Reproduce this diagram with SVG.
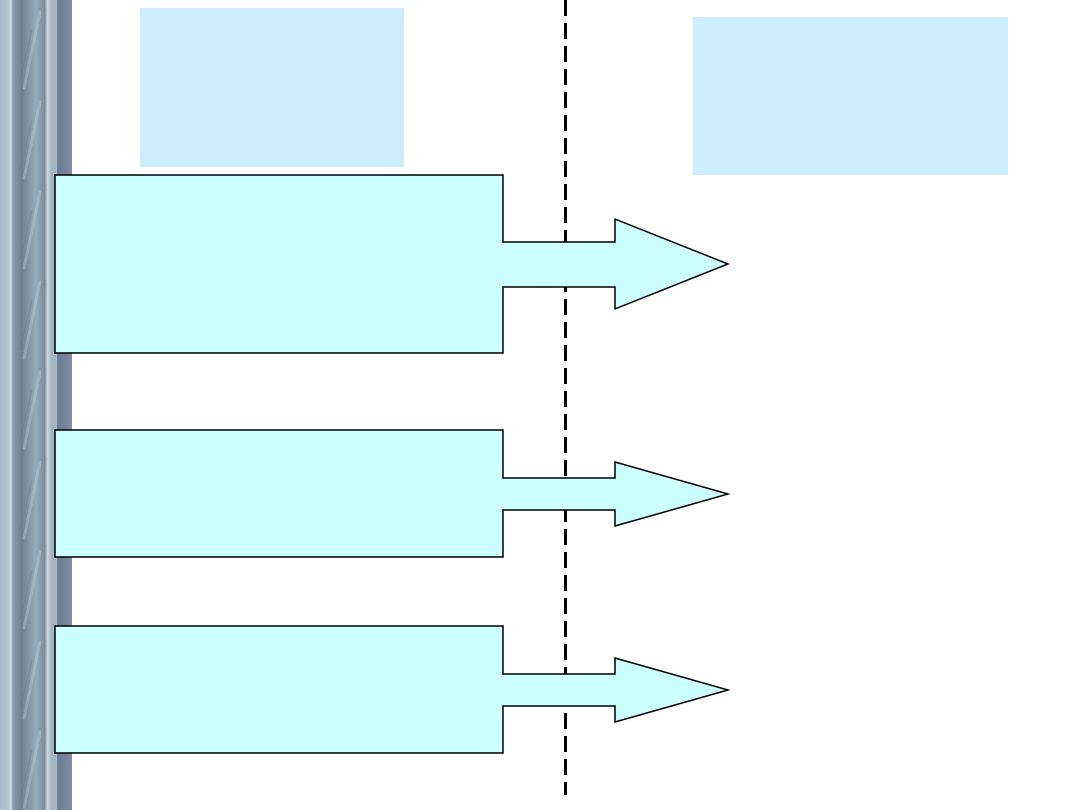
<svg xmlns="http://www.w3.org/2000/svg" width="1080" height="810" viewBox="0 0 1080 810">
<style>
.node{fill:#CCFFFF;stroke:#000;stroke-width:1.5;stroke-linejoin:miter}
.label{fill:#CCECFF;stroke:none}
.dash{stroke:#000;stroke-width:3;stroke-dasharray:16 7;fill:none}
</style>
<defs>
<linearGradient id="bar" x1="0" y1="0" x2="1" y2="0">
<stop offset="0" stop-color="#a9bbc8"/>
<stop offset="0.12" stop-color="#b5c6d2"/>
<stop offset="0.15" stop-color="#d6e2ea"/>
<stop offset="0.18" stop-color="#8a9cab"/>
<stop offset="0.3" stop-color="#6f8190"/>
<stop offset="0.5" stop-color="#98abba"/>
<stop offset="0.62" stop-color="#7a8c9b"/>
<stop offset="0.66" stop-color="#c9d6df"/>
<stop offset="0.72" stop-color="#9fb1bf"/>
<stop offset="0.79" stop-color="#a7b8c5"/>
<stop offset="0.8" stop-color="#6c7d90"/>
<stop offset="1" stop-color="#7d8ca8"/>
</linearGradient>
<pattern id="streak" width="72" height="90" patternUnits="userSpaceOnUse">
<path d="M24 88 L40 12" stroke="#c2d3e0" stroke-width="3" stroke-opacity="0.35" stroke-linecap="round" fill="none"/>
<path d="M20 80 L32 30" stroke="#5f7181" stroke-width="1.5" stroke-opacity="0.25" fill="none"/>
</pattern>
</defs>
<rect width="1080" height="810" fill="#fff"/>
<g id="sidebar">
<rect x="0" y="0" width="72" height="810" fill="url(#bar)"/>
<rect x="15" y="0" width="32" height="810" fill="url(#streak)"/>
</g>
<g id="connectors">
<line class="dash" x1="565.5" y1="0" x2="565.5" y2="795"/>
</g>
<g id="label-left"><rect class="label" x="140" y="8" width="264" height="159"/></g>
<g id="label-right"><rect class="label" x="693" y="17" width="315" height="158"/></g>
<g id="node1"><path class="node" d="M55 175 H503 V242 H615 V219 L728 264 L615 309 V287 H503 V353 H55 Z"/></g>
<g id="node2"><path class="node" d="M55 430 H503 V478 H615 V462 L728 494 L615 526 V510 H503 V557 H55 Z"/></g>
<g id="node3"><path class="node" d="M55 626 H503 V674 H615 V658 L728 690 L615 722 V706 H503 V753 H55 Z"/></g>
</svg>
